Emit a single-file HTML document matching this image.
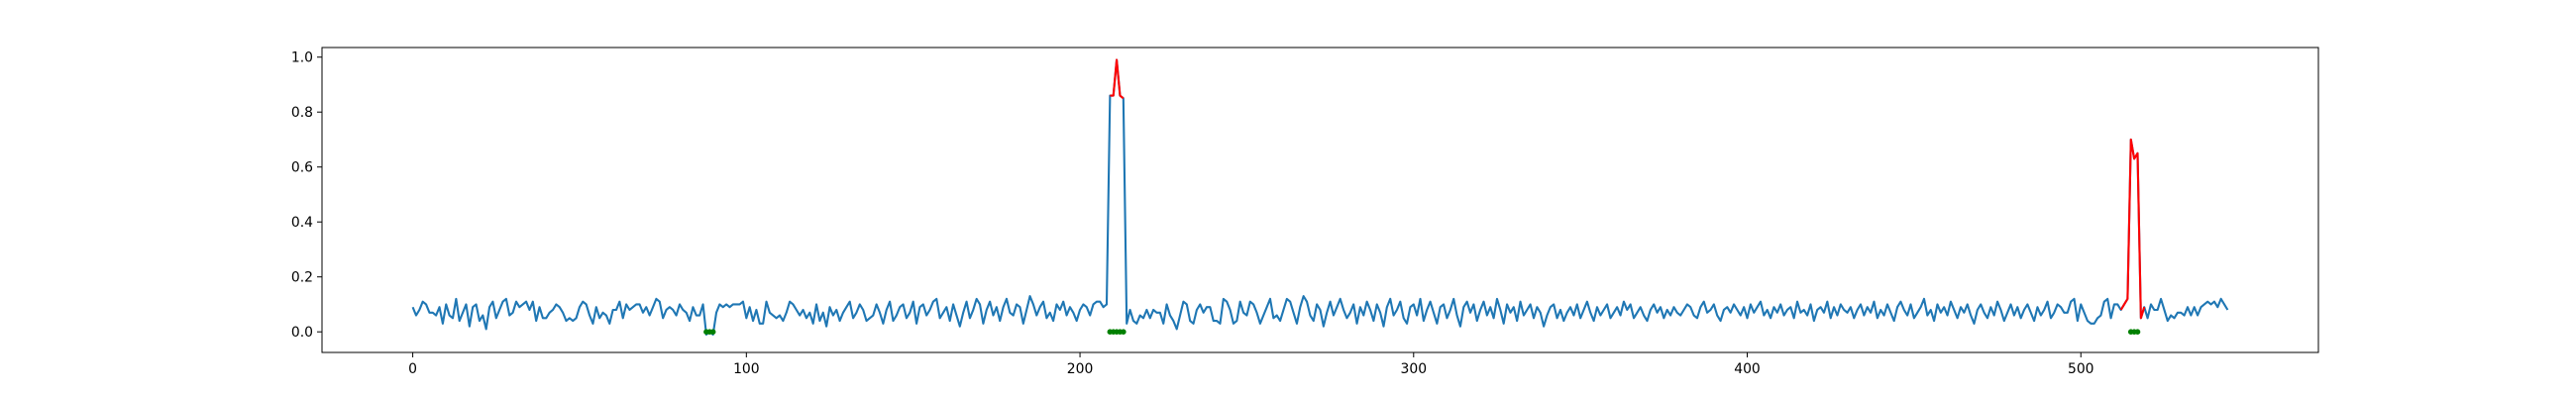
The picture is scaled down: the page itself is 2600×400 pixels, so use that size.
<!DOCTYPE html>
<html><head><meta charset="utf-8"><style>
html,body{margin:0;padding:0;background:#fff;}
svg{display:block;font-family:"DejaVu Sans","Liberation Sans",sans-serif;}
</style></head><body>
<svg id="chart" width="2600" height="400" viewBox="0 0 2600 400" xmlns="http://www.w3.org/2000/svg">
<rect x="0" y="0" width="2600" height="400" fill="#fff"/>
<g id="plot"></g>
<rect x="325" y="48" width="2015" height="308" fill="none" stroke="#000" stroke-width="1"/>
<g id="xticks"></g>
<g id="yticks"></g>
</svg>
<script>
const seriesValues = [
.09,.06,.08,.11,.10,.07,.07,.06,.09,.03,.10,.06,.05,.12,.04,.07,.10,.02,.09,.10,
.04,.06,.01,.09,.11,.05,.08,.11,.12,.06,.07,.11,.09,.10,.11,.08,.11,.04,.09,.05,
.05,.07,.08,.10,.09,.07,.04,.05,.04,.05,.09,.11,.10,.06,.03,.09,.05,.07,.06,.03,
.08,.08,.11,.05,.10,.08,.09,.10,.10,.07,.09,.06,.09,.12,.11,.05,.08,.09,.08,.06,
.10,.08,.07,.04,.09,.06,.06,.10,-.01,.00,-.01,.07,.10,.09,.10,.09,.10,.10,.10,.11,
.05,.09,.04,.08,.03,.03,.11,.07,.06,.05,.06,.04,.07,.11,.10,.08,.06,.08,.05,.07,
.03,.10,.04,.07,.02,.09,.06,.08,.04,.07,.09,.11,.05,.07,.10,.08,.04,.05,.06,.10,
.07,.03,.08,.11,.04,.06,.09,.10,.05,.07,.11,.03,.09,.10,.06,.08,.11,.12,.05,.07,
.09,.04,.10,.06,.02,.07,.11,.05,.08,.12,.10,.03,.08,.11,.06,.09,.04,.09,.12,.07,
.06,.10,.09,.03,.08,.13,.10,.06,.09,.11,.05,.07,.04,.10,.08,.11,.06,.09,.07,.04,
.08,.10,.09,.06,.10,.11,.11,.09,.10,.86,.86,.99,.86,.85,.03,.08,.04,.03,.06,.05,
.08,.05,.08,.07,.07,.03,.10,.06,.04,.01,.06,.11,.10,.04,.03,.08,.10,.07,.09,.09,
.04,.04,.03,.12,.11,.08,.03,.04,.11,.07,.06,.11,.10,.07,.03,.06,.09,.12,.05,.06,
.04,.08,.12,.11,.07,.03,.09,.13,.11,.06,.04,.10,.08,.02,.07,.11,.06,.09,.12,.08,
.05,.07,.10,.03,.09,.06,.11,.08,.04,.10,.07,.02,.09,.12,.06,.08,.11,.05,.03,.09,
.10,.06,.12,.04,.08,.11,.07,.03,.09,.10,.05,.08,.12,.06,.02,.09,.11,.07,.10,.04,
.08,.11,.06,.09,.05,.12,.08,.03,.10,.07,.09,.04,.11,.06,.08,.10,.05,.09,.07,.02,
.06,.09,.10,.05,.08,.04,.07,.09,.06,.10,.05,.08,.11,.07,.04,.09,.06,.08,.10,.05,
.07,.09,.06,.11,.08,.10,.05,.07,.09,.06,.04,.08,.10,.07,.09,.05,.08,.06,.09,.07,
.06,.08,.10,.09,.06,.05,.09,.11,.07,.08,.10,.06,.04,.08,.09,.07,.10,.08,.06,.09,
.05,.10,.07,.09,.11,.06,.08,.05,.09,.07,.10,.06,.08,.09,.05,.11,.07,.08,.06,.10,
.04,.08,.09,.07,.11,.05,.09,.06,.10,.08,.07,.09,.05,.08,.10,.06,.09,.07,.11,.05,
.08,.06,.10,.07,.04,.09,.11,.08,.06,.10,.05,.07,.09,.12,.06,.08,.04,.10,.07,.09,
.06,.11,.08,.05,.09,.07,.10,.06,.03,.08,.10,.07,.05,.09,.06,.11,.08,.04,.07,.10,
.06,.09,.05,.08,.10,.07,.04,.09,.06,.08,.11,.05,.07,.10,.09,.07,.07,.11,.12,.04,
.10,.07,.04,.03,.03,.05,.06,.11,.12,.05,.10,.10,.08,.10,.12,.70,.63,.65,.05,.09,
.05,.10,.08,.08,.12,.08,.04,.06,.05,.07,.07,.06,.09,.06,.09,.06,.09,.10,.11,.10,
.11,.09,.12,.10,.08
];
const redSegments = [[209,213],[512,519]];
const greenMarkers = [88,89,90,209,210,211,212,213,515,516,517];
const xTickValues = [0,100,200,300,400,500];
const yTickValues = [0.0,0.2,0.4,0.6,0.8,1.0];
const yTickLabels = ["0.0","0.2","0.4","0.6","0.8","1.0"];

const NS="http://www.w3.org/2000/svg";
const xMin=-27.2,xMax=571.2,yMin=-0.075,yMax=1.035;
function X(v){return 325+(v-xMin)/(xMax-xMin)*2015;}
function Y(v){return 356-(v-yMin)/(yMax-yMin)*308;}
function mk(t){return document.createElementNS(NS,t);}
const plot=document.getElementById('plot');

const main=mk('polyline');
main.setAttribute('points',seriesValues.map((v,i)=>X(i).toFixed(2)+','+Y(v).toFixed(2)).join(' '));
main.setAttribute('fill','none');main.setAttribute('stroke','#1f77b4');main.setAttribute('stroke-width','2.1');main.setAttribute('stroke-linejoin','round');


plot.appendChild(main);

redSegments.forEach(function(s){
  const p=mk('polyline');const pts=[];
  for(let i=s[0];i<=s[1];i++)pts.push(X(i).toFixed(2)+','+Y(seriesValues[i]).toFixed(2));
  p.setAttribute('points',pts.join(' '));
  p.setAttribute('fill','none');p.setAttribute('stroke','#ff0000');p.setAttribute('stroke-width','2.1');p.setAttribute('stroke-linejoin','round');
  
  
  plot.appendChild(p);
});

greenMarkers.forEach(function(i){
  const c=mk('circle');
  c.setAttribute('cx',X(i));c.setAttribute('cy',Y(0));c.setAttribute('r','2.8');c.setAttribute('fill','#008000');
  
  
  plot.appendChild(c);
});

const xg=document.getElementById('xticks');
xTickValues.forEach(function(v){
  const l=mk('line');l.setAttribute('x1',X(v));l.setAttribute('x2',X(v));l.setAttribute('y1',356);l.setAttribute('y2',361);l.setAttribute('stroke','#000');
  
  
  xg.appendChild(l);
  const t=mk('text');t.setAttribute('x',X(v));t.setAttribute('y',377);t.setAttribute('text-anchor','middle');t.setAttribute('font-size','13.9');t.textContent=String(v);
  
  
  xg.appendChild(t);
});
const yg=document.getElementById('yticks');
yTickValues.forEach(function(v,k){
  const l=mk('line');l.setAttribute('x1',320);l.setAttribute('x2',325);l.setAttribute('y1',Y(v));l.setAttribute('y2',Y(v));l.setAttribute('stroke','#000');
  
  
  yg.appendChild(l);
  const t=mk('text');t.setAttribute('x',316);t.setAttribute('y',Y(v)+5);t.setAttribute('text-anchor','end');t.setAttribute('font-size','13.9');t.textContent=yTickLabels[k];
  
  
  yg.appendChild(t);
});
</script>
</body></html>
